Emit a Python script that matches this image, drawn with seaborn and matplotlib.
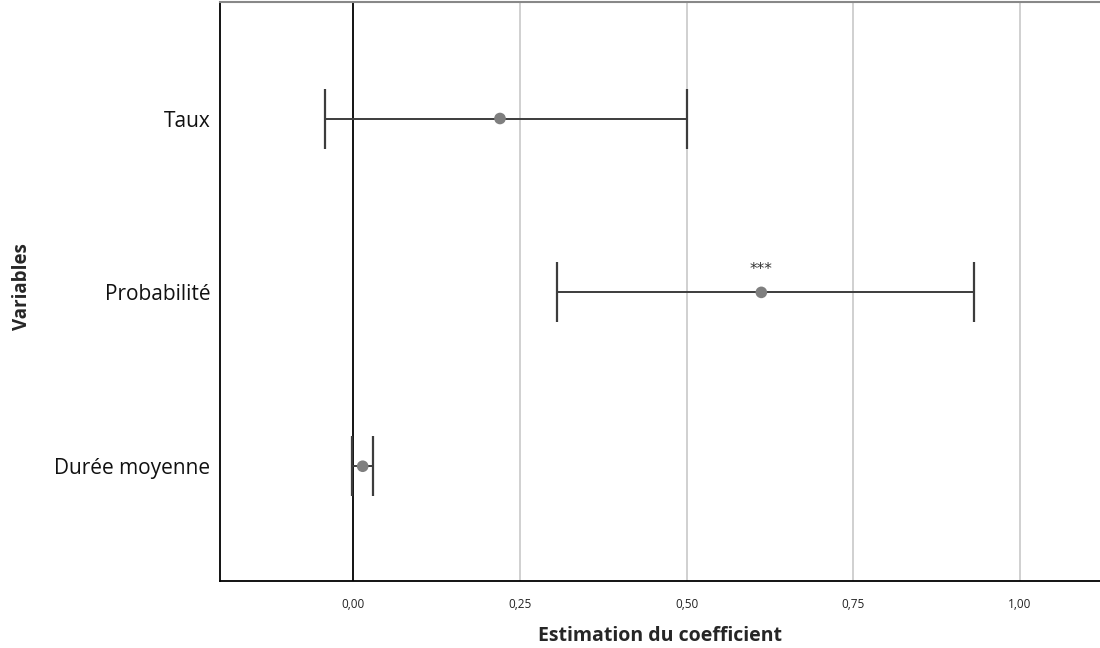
import matplotlib
matplotlib.use("Agg")
import matplotlib.pyplot as plt
import seaborn as sns
import pandas as pd
import numpy as np

variables = ["Taux", "Probabilité", "Durée moyenne"]
estimates = [0.220, 0.612, 0.014]
ci_low = [-0.042, 0.306, -0.002]
ci_high = [0.500, 0.931, 0.030]
significance = ["", "***", ""]
xticks = [0.00, 0.25, 0.50, 0.75, 1.00]
xtick_labels = ["0,00", "0,25", "0,50", "0,75", "1,00"]

df = pd.DataFrame({"Variable": variables, "Estimate": estimates,
                   "Low": ci_low, "High": ci_high, "Sig": significance})

sns.set_theme(style="white")
plt.rcParams['font.family'] = ['Open Sans', 'DejaVu Sans']

fig = plt.figure(figsize=(11, 6.48), dpi=100)
ax = fig.add_axes([0.2, 0.1034, 0.8, 0.8935])

ypos = np.arange(len(df))
ax.set_xlim(-0.20, 1.12)
ax.set_ylim(2.66, -0.67)

for xt in xticks:
    if xt != 0:
        ax.axvline(xt, color="#c8c8c8", lw=1.2, zorder=0)
ax.axvline(0, color="black", lw=1.3, zorder=1)

ax.errorbar(df["Estimate"], ypos,
            xerr=[df["Estimate"] - df["Low"], df["High"] - df["Estimate"]],
            fmt="none", ecolor="#3c3c3c", elinewidth=1.4, capsize=21.5, capthick=1.6, zorder=2)
sns.scatterplot(x=df["Estimate"], y=ypos, ax=ax, color="#7f7f7f", s=70,
                edgecolor="none", zorder=3, legend=False)

for i, row in df.iterrows():
    if row["Sig"]:
        ax.text(row["Estimate"], i - 0.13, row["Sig"], ha="center", va="center",
                fontsize=11, color="#333333", family="DejaVu Sans")

ax.set_yticks(ypos)
ax.set_yticklabels(df["Variable"], fontsize=15, color="#111111")
ax.set_xticks(xticks)
ax.set_xticklabels(xtick_labels, fontsize=8.5, color="#222222")
ax.tick_params(axis="y", length=0, pad=7)
ax.tick_params(axis="x", length=0, pad=12)

ax.set_xlabel("Estimation du coefficient", fontsize=14, fontweight="bold", va="center")
ax.xaxis.set_label_coords(0.5, -(636 - 581) / 579)
ax.set_ylabel("Variables", fontsize=13.5, fontweight="bold", va="center")
ax.yaxis.set_label_coords((22 - 220) / 880, (581 - 287) / 579)

for side in ["left", "bottom"]:
    ax.spines[side].set_color("black")
    ax.spines[side].set_linewidth(1.3)
ax.spines["top"].set_color("#888888")
ax.spines["top"].set_linewidth(1.5)
ax.spines["right"].set_visible(False)

fig.savefig("out.png", dpi=100)
